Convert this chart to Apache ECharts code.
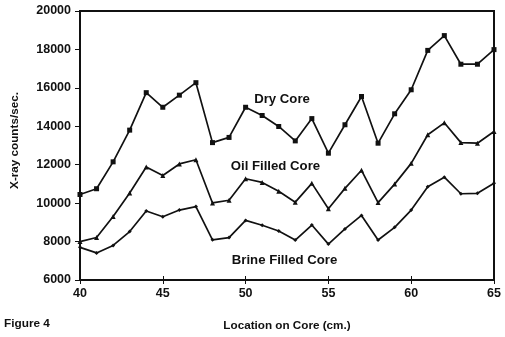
<!DOCTYPE html>
<html>
<head>
<meta charset="utf-8">
<script src="https://cdn.jsdelivr.net/npm/echarts@6/dist/echarts.min.js"></script>
<style>
  html, body { margin: 0; padding: 0; background: #fff; }
  #chart { width: 505px; height: 337px; }
</style>
</head>
<body>
<div id="chart"></div>
<script>
// Location along the core (cm.)
const locations = [40, 41, 42, 43, 44, 45, 46, 47, 48, 49, 50, 51, 52,
                   53, 54, 55, 56, 57, 58, 59, 60, 61, 62, 63, 64, 65];

// X-ray counts/sec. for each saturation state
const dryCore = [10450, 10750, 12150, 13800, 15750, 14990, 15620, 16270, 13150, 13420,
                 14990, 14560, 13990, 13240, 14400, 12600, 14080, 15550, 13120, 14650,
                 15900, 17950, 18720, 17230, 17230, 17990];
const oilFilledCore = [8000, 8210, 9310, 10530, 11880, 11440, 12040, 12260, 10010, 10150,
                       11270, 11080, 10620, 10050, 11030, 9710, 10770, 11710, 10030, 10990,
                       12070, 13560, 14180, 13150, 13120, 13730];
const brineFilledCore = [7700, 7410, 7800, 8520, 9590, 9290, 9640, 9820, 8090, 8210,
                         9100, 8850, 8550, 8080, 8860, 7870, 8660, 9360, 8080, 8740,
                         9640, 10850, 11350, 10490, 10510, 11030];

// Tick values
const xTicks = { min: 40, max: 65, interval: 5 };
const yTicks = { min: 6000, max: 20000, interval: 2000 };

// Curve captions, anchored in data coordinates
const captions = [
  { text: 'Dry Core', x: 52.2, y: 15420 },
  { text: 'Oil Filled Core', x: 51.8, y: 11920 },
  { text: 'Brine Filled Core', x: 52.35, y: 7030 }
];

const FONT = '"Liberation Sans", Arial, sans-serif';
const txt = { fontFamily: FONT, fontWeight: 'bold', fontSize: 12.5, color: '#111' };

const pairs = arr => locations.map((x, i) => [x, arr[i]]);

const lineSeries = (name, data, symbol, size) => ({
  name, type: 'line', data: pairs(data),
  symbol, symbolSize: size, showSymbol: true,
  lineStyle: { color: '#111', width: 1.7 },
  itemStyle: { color: '#111' },
  animation: false, z: 3
});

const chart = echarts.init(document.getElementById('chart'), null, { renderer: 'canvas' });

const option = {
  animation: false,
  backgroundColor: '#fff',
  grid: {
    left: 80, right: 11, top: 11, bottom: 54,
    show: true, borderColor: '#111', borderWidth: 2, backgroundColor: 'transparent'
  },
  xAxis: [
    {
      type: 'value', min: xTicks.min, max: xTicks.max, interval: xTicks.interval,
      name: 'Location on Core (cm.)', nameLocation: 'middle', nameGap: 40,
      nameTextStyle: Object.assign({}, txt, { fontSize: 11.7 }),
      axisLine: { show: true, onZero: false, lineStyle: { color: '#111', width: 2 } },
      axisTick: { show: true, inside: false, length: 4, lineStyle: { color: '#111', width: 1 } },
      axisLabel: Object.assign({}, txt, { margin: 7 }),
      splitLine: { show: false }
    },
    {
      // inward half of the crossing ticks
      type: 'value', position: 'bottom', min: xTicks.min, max: xTicks.max, interval: xTicks.interval,
      axisLine: { show: false, onZero: false },
      axisTick: { show: true, inside: true, length: 4, lineStyle: { color: '#111', width: 1 } },
      axisLabel: { show: false },
      splitLine: { show: false }
    }
  ],
  yAxis: {
    type: 'value', min: yTicks.min, max: yTicks.max, interval: yTicks.interval,
    name: 'X-ray counts/sec.', nameLocation: 'middle', nameGap: 59,
    nameTextStyle: Object.assign({}, txt, { fontSize: 11.7, padding: [0, 0, 0, 10] }),
    axisLine: { show: true, onZero: false, lineStyle: { color: '#111', width: 2 } },
    axisTick: { show: true, inside: false, length: 5, lineStyle: { color: '#111', width: 1 } },
    axisLabel: Object.assign({}, txt, { margin: 9, formatter: v => String(v) }),
    splitLine: { show: false }
  },
  series: [
    lineSeries('Dry Core', dryCore, 'rect', 5),
    lineSeries('Oil Filled Core', oilFilledCore, 'triangle', 5),
    lineSeries('Brine Filled Core', brineFilledCore, 'diamond', 4)
  ]
};

chart.setOption(option);

// Place curve captions and the figure label
const graphics = captions.map(c => {
  const p = chart.convertToPixel({ gridIndex: 0 }, [c.x, c.y]);
  return {
    type: 'text', x: p[0], y: p[1], z: 10,
    style: {
      text: c.text, fill: '#111', align: 'center', verticalAlign: 'middle',
      font: 'bold 13.2px ' + FONT
    }
  };
});
graphics.push({
  type: 'text', left: 4, top: 318, z: 10,
  style: { text: 'Figure 4', fill: '#111', font: 'bold 11.8px ' + FONT }
});
chart.setOption({ graphic: graphics });
</script>
</body>
</html>
